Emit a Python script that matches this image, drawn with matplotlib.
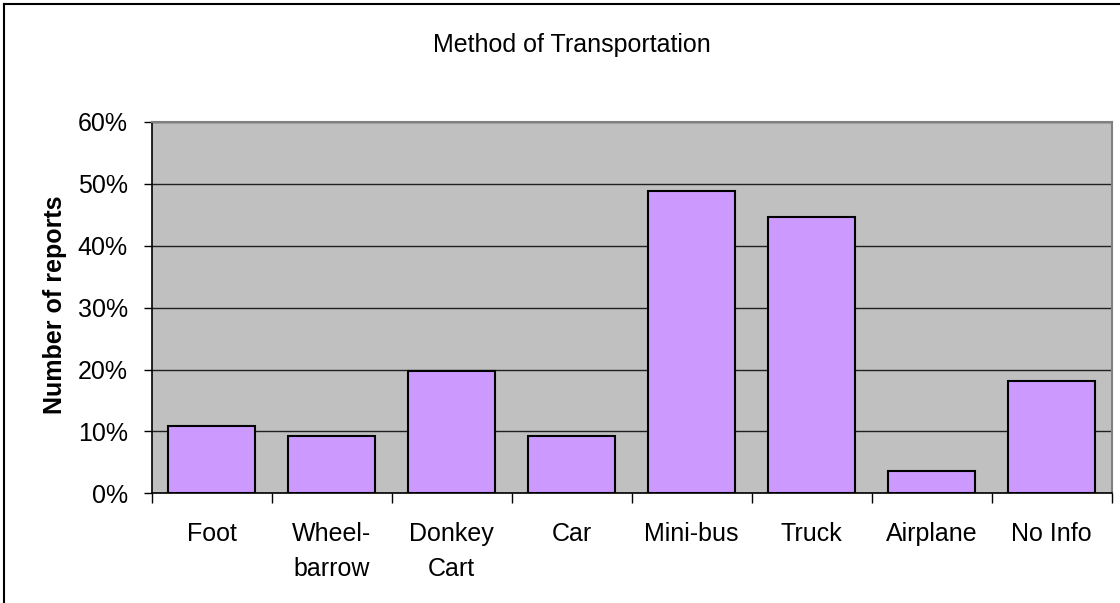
import numpy as np
import matplotlib
matplotlib.use("Agg")
import matplotlib.pyplot as plt
from matplotlib.ticker import FixedLocator, PercentFormatter
from matplotlib.lines import Line2D

# dados
categorias = ["Foot", "Wheel-\nbarrow", "Donkey\nCart", "Car", "Mini-bus", "Truck", "Airplane", "No Info"]
valores = [10.9, 9.3, 19.7, 9.3, 48.9, 44.6, 3.6, 18.1]
ticks_y = [0, 10, 20, 30, 40, 50, 60]

plt.rcParams["font.family"] = ["Liberation Sans", "DejaVu Sans"]

fig = plt.figure(figsize=(11.2, 6.03), dpi=100)
ax = fig.add_axes([0.1353, 0.1819, 0.9926 - 0.1353, 0.7977 - 0.1819])

x = np.arange(len(categorias))
ax.set_facecolor("#C0C0C0")
ax.bar(x, valores, width=0.72, color="#CC99FF", edgecolor="black", linewidth=1.5, zorder=3)

ax.set_xlim(-0.5, len(categorias) - 0.5)
ax.set_ylim(0, 60)
ax.set_yticks(ticks_y)
ax.yaxis.set_major_formatter(PercentFormatter(decimals=0))
ax.grid(axis="y", color="#202020", linewidth=1.0, zorder=1)
ax.set_axisbelow(True)

ax.set_xticks(x)
ax.set_xticklabels(categorias, fontsize=18, linespacing=1.55)
ax.xaxis.set_minor_locator(FixedLocator(np.arange(len(categorias) + 1) - 0.5))
ax.tick_params(axis="x", which="major", length=0, pad=21)
ax.tick_params(axis="x", which="minor", length=7, width=1, color="black", direction="out")
ax.tick_params(axis="y", labelsize=18, length=6, width=1, direction="out", pad=11)

for lado in ["left", "bottom"]:
    ax.spines[lado].set_color("black")
    ax.spines[lado].set_linewidth(1.2)
for lado in ["top", "right"]:
    ax.spines[lado].set_color("#808080")
    ax.spines[lado].set_linewidth(1.5)

fig.text(0.5105, 1 - 45 / 603, "Method of Transportation", fontsize=18, ha="center", va="center")
fig.text(55 / 1120, 1 - 305 / 603, "Number of reports", fontsize=18, fontweight="bold",
         rotation=90, ha="center", va="center")

# borda do grafico (so esquerda e topo aparecem)
fig.add_artist(Line2D([4 / 1120, 4 / 1120], [0, 1 - 4 / 603], color="black", linewidth=1.5))
fig.add_artist(Line2D([4 / 1120, 1], [1 - 4 / 603, 1 - 4 / 603], color="black", linewidth=1.5))

fig.savefig("out.png", dpi=100)
